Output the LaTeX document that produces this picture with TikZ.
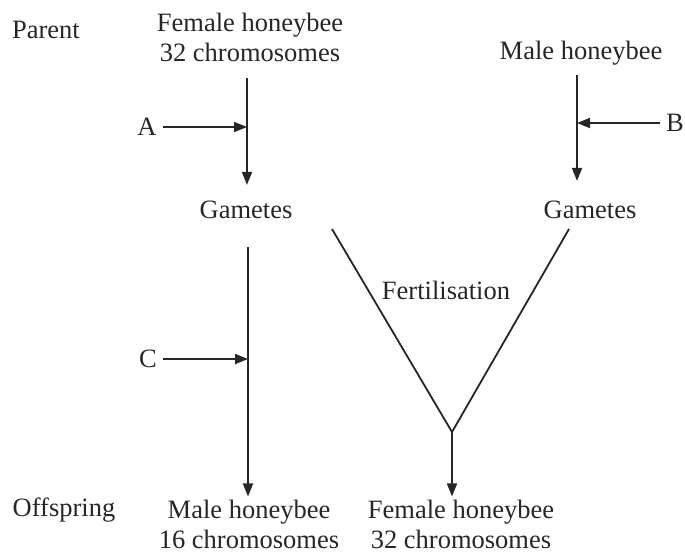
\documentclass[tikz,border=0pt]{standalone}
\usepackage{fontspec}
\setmainfont{Liberation Serif}
\usetikzlibrary{arrows.meta}
\begin{document}
\begin{tikzpicture}[x=1pt,y=-1pt,
  lbl/.style={inner sep=0pt,font=\fontsize{26.5}{30}\selectfont,text=black!85,align=center},
  ln/.style={line width=1.8pt,draw=black!85},
  arr/.style={ln,-{Triangle[length=13pt,width=10pt]}}]
\useasboundingbox (0,0) rectangle (685,554);
% texts
\node[lbl] (parent) at (46,30) {Parent};
\node[lbl] (fem) at (250,37) {Female honeybee\\32 chromosomes};
\node[lbl] (male) at (581,53) {Male honeybee};
\node[lbl] (gamL) at (246,210) {Gametes};
\node[lbl] (gamR) at (590,210) {Gametes};
\node[lbl] (A) at (147,127) {A};
\node[lbl] (B) at (675,123) {B};
\node[lbl] (C) at (148,359) {C};
\node[lbl] (fert) at (446,290) {Fertilisation};
\node[lbl] (offspring) at (64,510) {Offspring};
\node[lbl] (maleoff) at (249,524) {Male honeybee\\16 chromosomes};
\node[lbl] (femoff) at (461,524) {Female honeybee\\32 chromosomes};
% junctions
\coordinate (jA) at (247,127);
\coordinate (jB) at (577,123);
\coordinate (jC) at (248,359);
\coordinate (vL) at (332,229);
\coordinate (vR) at (569,229);
\coordinate (vJ) at (452,432);
\coordinate (tL) at (247,78);
\coordinate (tR) at (577,75);
\coordinate (tC) at (248,247);
% connectors
\draw[arr] (tL) -- (gamL.north -| tL) [shorten >=16pt];
\draw[arr] (tR) -- (gamR.north -| tR) [shorten >=20pt];
\draw[arr] (A.east) ++(6,0) -- (jA);
\draw[arr] (B.west) ++(-6,0) -- (jB);
\draw[arr] (C.east) ++(6,0) -- (jC);
\draw[arr] (tC) -- (maleoff.north -| tC) [shorten >=3pt];
\draw[ln] (vL) -- (vJ) -- (vR);
\draw[arr] (vJ) -- (femoff.north -| vJ) [shorten >=3pt];
\end{tikzpicture}
\end{document}
